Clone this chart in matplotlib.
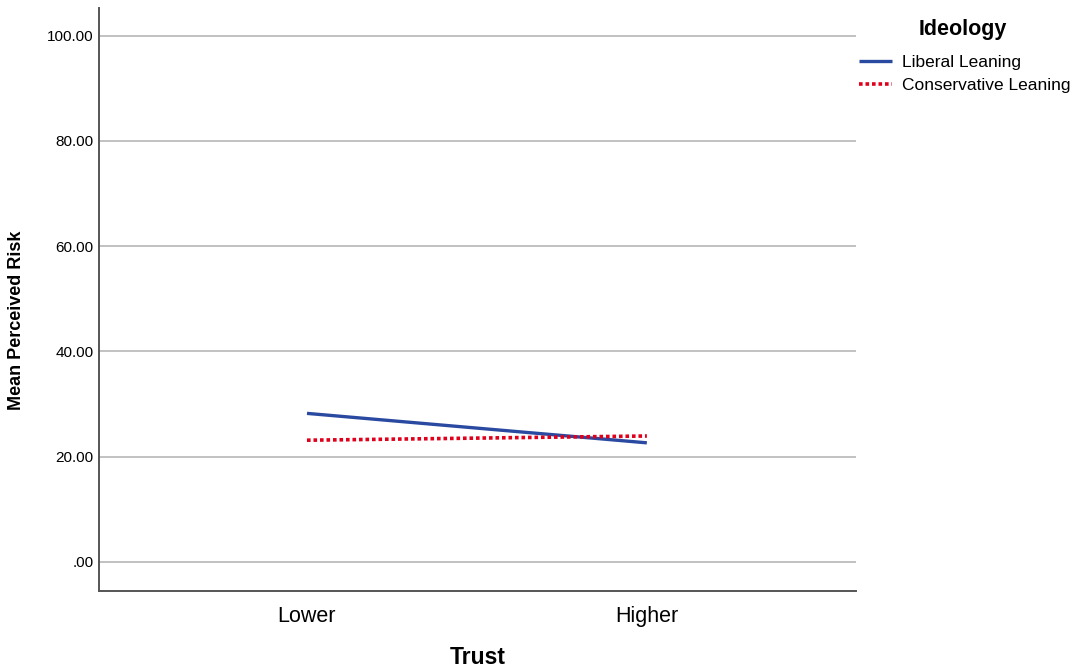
import matplotlib
matplotlib.use("Agg")
import matplotlib.pyplot as plt

plt.rcParams['font.family'] = ['Liberation Sans', 'DejaVu Sans']

trust = ['Lower', 'Higher']
liberal = [28.2, 22.6]
conservative = [23.1, 23.9]
yticks = [0, 20, 40, 60, 80, 100]
ytick_labels = ['.00', '20.00', '40.00', '60.00', '80.00', '100.00']

fig = plt.figure(figsize=(10.82, 6.71), dpi=100)
ax = fig.add_axes([0.0915, 0.1197, 0.6995, 0.868])

x = list(range(len(trust)))
ax.plot(x, liberal, color='#2a49a0', lw=2.4, solid_capstyle='butt', label='Liberal Leaning', zorder=3)
ax.plot(x, conservative, color='#e0001b', lw=2.6, linestyle=(0, (1, 0.8)), label='Conservative Leaning', zorder=3)

ax.set_xlim(-0.612, 1.615)
ax.set_ylim(-5.5, 105.2)
ax.set_xticks(x)
ax.set_xticklabels(trust, fontsize=15.5)
ax.set_yticks(yticks)
ax.set_yticklabels(ytick_labels, fontsize=11)
ax.tick_params(axis='both', length=0)
ax.tick_params(axis='x', pad=11)
ax.tick_params(axis='y', pad=4)
ax.grid(axis='y', color='#bcbcbc', lw=1.3)
ax.set_axisbelow(True)

for s in ['top', 'right']:
    ax.spines[s].set_visible(False)
for s in ['left', 'bottom']:
    ax.spines[s].set_color('#555555')
    ax.spines[s].set_linewidth(1.4)

ax.set_xlabel('Trust', fontsize=16.5, fontweight='bold', labelpad=14)
ax.set_ylabel('Mean Perceived Risk', fontsize=13, fontweight='bold')
ax.yaxis.set_label_coords(-0.098, 0.4646)

leg = ax.legend(loc='upper left', bbox_to_anchor=(859 / 1082, 1 - 55 / 671),
                bbox_transform=fig.transFigure, frameon=False,
                fontsize=12.5, handlelength=1.9, handletextpad=0.55,
                labelspacing=0.45, borderaxespad=0, borderpad=0)
fig.text(963 / 1082, 1 - 29 / 671, 'Ideology', ha='center', va='center',
         fontsize=15.5, fontweight='bold')

fig.savefig('out.png', dpi=100)
